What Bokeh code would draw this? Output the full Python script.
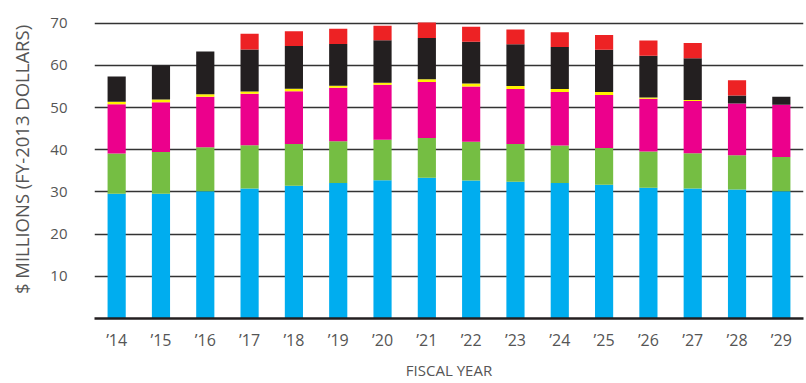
from bokeh.plotting import figure
from bokeh.models import FactorRange, Range1d, FixedTicker, ColumnDataSource
from bokeh.embed import file_html
from bokeh.resources import INLINE

years = ["’14", "’15", "’16", "’17", "’18", "’19", "’20", "’21",
         "’22", "’23", "’24", "’25", "’26", "’27", "’28", "’29"]
blue = [29.6, 29.6, 30.2, 30.8, 31.5, 32.1, 32.8, 33.4, 32.7, 32.4, 32.1, 31.7, 31.0, 30.8, 30.6, 30.2]
green = [9.5, 9.9, 10.4, 10.3, 9.9, 9.9, 9.6, 9.4, 9.2, 9.0, 8.9, 8.7, 8.6, 8.4, 8.1, 8.1]
pink = [11.7, 11.8, 12.0, 12.2, 12.5, 12.7, 13.0, 13.3, 13.1, 13.0, 12.7, 12.6, 12.5, 12.4, 12.3, 12.4]
yellow = [0.6, 0.6, 0.6, 0.5, 0.6, 0.5, 0.5, 0.6, 0.7, 0.7, 0.7, 0.7, 0.3, 0.2, 0.0, 0.0]
black = [6.0, 8.1, 10.1, 10.0, 10.1, 9.9, 10.1, 9.8, 9.9, 9.9, 10.0, 10.0, 9.9, 9.9, 1.9, 1.9]
red = [0.0, 0.0, 0.0, 3.7, 3.5, 3.6, 3.4, 3.7, 3.6, 3.5, 3.5, 3.5, 3.6, 3.6, 3.6, 0.0]
y_ticks = [10, 20, 30, 40, 50, 60, 70]

series = ["blue", "green", "pink", "yellow", "black", "red"]
colors = ["#00ADEF", "#75BE43", "#EC008C", "#FFF200", "#231F20", "#ED2224"]

source = ColumnDataSource(dict(years=years, blue=blue, green=green, pink=pink,
                               yellow=yellow, black=black, red=red))

p = figure(x_range=FactorRange(*years, range_padding=0), y_range=Range1d(0, 75.4),
           width=806, height=383, output_backend="svg", toolbar_location=None,
           min_border_left=94, min_border_right=3, min_border_top=0, min_border_bottom=65)

p.vbar_stack(series, x="years", width=0.41, color=colors, line_color=None, source=source)

p.outline_line_color = None
p.background_fill_color = "white"
p.border_fill_color = "white"

font = "Open Sans"
text_col = "#555555"

# y axis
p.yaxis.ticker = FixedTicker(ticks=y_ticks)
p.yaxis.axis_line_color = None
p.yaxis.major_tick_line_color = None
p.yaxis.minor_tick_line_color = None
p.yaxis.major_tick_out = 0
p.yaxis.major_tick_in = 0
p.yaxis.major_label_standoff = 27
p.yaxis.major_label_text_font = font
p.yaxis.major_label_text_font_size = "15px"
p.yaxis.major_label_text_color = text_col
p.yaxis.axis_label = "$ MILLIONS (FY-2013 DOLLARS)"
p.yaxis.axis_label_text_font = font
p.yaxis.axis_label_text_font_size = "18.5px"
p.yaxis.axis_label_text_font_style = "normal"
p.yaxis.axis_label_text_color = text_col
p.yaxis.axis_label_standoff = 13

# x axis
p.xaxis.axis_line_color = "#231F20"
p.xaxis.axis_line_width = 2.5
p.xaxis.major_tick_line_color = None
p.xaxis.major_tick_out = 0
p.xaxis.major_tick_in = 0
p.xaxis.major_label_standoff = 10
p.xaxis.major_label_text_font = font
p.xaxis.major_label_text_font_size = "16px"
p.xaxis.major_label_text_color = text_col
p.xaxis.axis_label = "FISCAL YEAR"
p.xaxis.axis_label_text_font = font
p.xaxis.axis_label_text_font_size = "15px"
p.xaxis.axis_label_text_font_style = "normal"
p.xaxis.axis_label_text_color = text_col
p.xaxis.axis_label_standoff = 6

# grid
p.xgrid.grid_line_color = None
p.ygrid.ticker = FixedTicker(ticks=y_ticks)
p.ygrid.grid_line_color = "#333333"
p.ygrid.grid_line_width = 1.3

open("out.html", "w").write(file_html(p, INLINE))
